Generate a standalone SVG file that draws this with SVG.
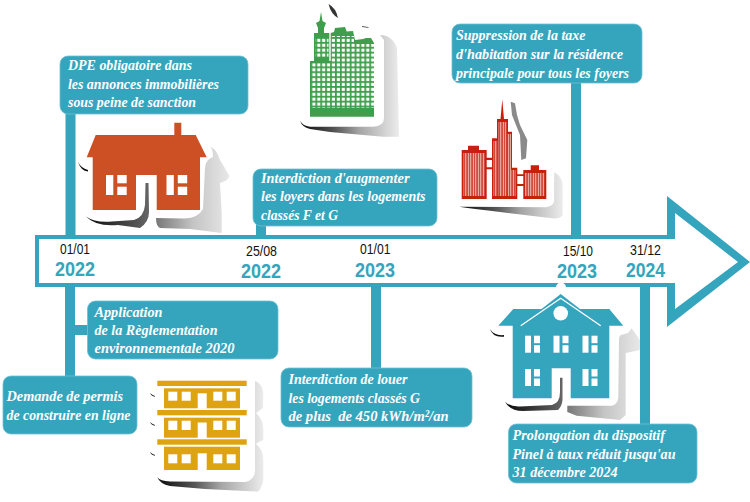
<svg xmlns="http://www.w3.org/2000/svg" width="750" height="502" viewBox="0 0 750 502">
<style>
.box{fill:#35a5bd;stroke:#6fc0d2;stroke-width:.8}
.t{font-family:"Liberation Serif",serif;font-style:italic;font-weight:bold;font-size:15.5px;fill:#fff}
.d{font-family:"Liberation Sans",sans-serif;font-size:14.5px;fill:#111}
.y{font-family:"Liberation Sans",sans-serif;font-weight:bold;font-size:21px;fill:#35a5bd}
.c{fill:#35a5bd}
.w{fill:#fff}
</style>
<defs>
<linearGradient id="sh"><stop offset="0" stop-color="#0a0a0a"/><stop offset=".35" stop-color="#555"/><stop offset=".6" stop-color="#a5a5a5"/><stop offset="1" stop-color="#ececec"/></linearGradient>
<linearGradient id="sd"><stop offset="0" stop-color="#0a0a0a"/><stop offset="1" stop-color="#666"/></linearGradient>
<linearGradient id="sl"><stop offset="0" stop-color="#777"/><stop offset=".5" stop-color="#c4c4c4"/><stop offset="1" stop-color="#e8e8e8"/></linearGradient>
<pattern id="grid" patternUnits="userSpaceOnUse" width="4.9" height="4.9" x="311.5" y="62.5"><rect x="0.8" y="0.8" width="3.1" height="3.1" fill="#fff"/></pattern>
<pattern id="stripes" patternUnits="userSpaceOnUse" width="2.5" height="10" x="462"><rect x="0.7" width="1.2" height="10" fill="#f4d0c8"/></pattern>
<g id="win"><rect width="6" height="17"/><rect x="9" width="6" height="7.5"/><rect x="9" y="9.5" width="6" height="7.5"/></g>
<g id="win2"><rect width="7.3" height="20"/><rect x="11.3" width="9.4" height="8.3"/><rect x="11.3" y="11.7" width="9.4" height="8.3"/></g>
</defs>

<g id="connectors">
<rect class="c" x="65.5" y="110" width="10" height="126"/>
<rect class="c" x="65" y="286" width="10" height="92"/>
<rect class="c" x="74" y="325" width="15" height="10"/>
<rect class="c" x="256" y="224" width="10" height="12"/>
<rect class="c" x="371" y="286" width="10" height="84"/>
<rect class="c" x="571" y="80" width="10" height="156"/>
<rect class="c" x="640" y="286" width="10" height="140"/>
</g>

<g id="timeline">
<path fill="#fff" d="M37,237H671V205L745,262L671,318V285H37Z"/>
<path class="c" fill-rule="evenodd" d="M35,235H667V196L750,262L667,327V287H35ZM39,239V283H675V309L738,262L675,213V239Z"/>
<text class="d" x="60" y="254" textLength="30" lengthAdjust="spacingAndGlyphs">01/01</text>
<text class="y" x="55" y="276" textLength="40" lengthAdjust="spacingAndGlyphs">2022</text>
<text class="d" x="246" y="256" textLength="31" lengthAdjust="spacingAndGlyphs">25/08</text>
<text class="y" x="241" y="278" textLength="40" lengthAdjust="spacingAndGlyphs">2022</text>
<text class="d" x="360" y="254" textLength="30.500" lengthAdjust="spacingAndGlyphs">01/01</text>
<text class="y" x="355" y="277" textLength="40" lengthAdjust="spacingAndGlyphs">2023</text>
<text class="d" x="563" y="256" textLength="30" lengthAdjust="spacingAndGlyphs">15/10</text>
<text class="y" x="557" y="278" textLength="40" lengthAdjust="spacingAndGlyphs">2023</text>
<text class="d" x="630" y="255" textLength="31" lengthAdjust="spacingAndGlyphs">31/12</text>
<text class="y" x="626" y="277" textLength="39" lengthAdjust="spacingAndGlyphs">2024</text>
</g>

<g id="note-dpe">
<rect class="box" x="60" y="56" width="188" height="58" rx="8"/>
<text class="t" x="68" y="70" textLength="124" lengthAdjust="spacingAndGlyphs">DPE obligatoire dans</text>
<text class="t" x="68" y="88.500" textLength="151" lengthAdjust="spacingAndGlyphs">les annonces immobilières</text>
<text class="t" x="68" y="107" textLength="128" lengthAdjust="spacingAndGlyphs">sous peine de sanction</text>
</g>
<g id="note-loyers">
<rect class="box" x="253" y="169" width="184" height="57" rx="8"/>
<text class="t" x="261" y="183" textLength="148.500" lengthAdjust="spacingAndGlyphs">Interdiction d'augmenter</text>
<text class="t" x="261" y="201" textLength="164.500" lengthAdjust="spacingAndGlyphs">les loyers dans les logements</text>
<text class="t" x="261" y="219.500" textLength="77" lengthAdjust="spacingAndGlyphs">classés F et G</text>
</g>
<g id="note-taxe">
<rect class="box" x="452" y="24" width="190" height="59" rx="8"/>
<text class="t" x="456" y="40" textLength="129.500" lengthAdjust="spacingAndGlyphs">Suppression de la taxe</text>
<text class="t" x="456" y="59" textLength="167" lengthAdjust="spacingAndGlyphs">d'habitation sur la résidence</text>
<text class="t" x="456" y="77.500" textLength="173" lengthAdjust="spacingAndGlyphs">principale pour tous les foyers</text>
</g>
<g id="note-re2020">
<rect class="box" x="87.500" y="301" width="190.500" height="58" rx="8"/>
<text class="t" x="94.500" y="316.500" textLength="68" lengthAdjust="spacingAndGlyphs">Application</text>
<text class="t" x="94.500" y="335" textLength="123" lengthAdjust="spacingAndGlyphs">de la Règlementation</text>
<text class="t" x="94.500" y="353" textLength="140" lengthAdjust="spacingAndGlyphs">environnementale 2020</text>
</g>
<g id="note-permis">
<rect class="box" x="3" y="376" width="134" height="58" rx="8"/>
<text class="t" x="6.500" y="401" textLength="116.500" lengthAdjust="spacingAndGlyphs">Demande de permis</text>
<text class="t" x="6.500" y="419.500" textLength="124" lengthAdjust="spacingAndGlyphs">de construire en ligne</text>
</g>
<g id="note-louer">
<rect class="box" x="281" y="368" width="191" height="59" rx="8"/>
<text class="t" x="288.500" y="384" textLength="119" lengthAdjust="spacingAndGlyphs">Interdiction de louer</text>
<text class="t" x="288.500" y="402.500" textLength="131.500" lengthAdjust="spacingAndGlyphs">les logements classés G</text>
<text class="t" x="288.500" y="421" textLength="160" lengthAdjust="spacingAndGlyphs" xml:space="preserve">de plus  de 450 kWh/m²/an</text>
</g>
<g id="note-pinel">
<rect class="box" x="508.500" y="424" width="188.500" height="59" rx="8"/>
<text class="t" x="512.500" y="440" textLength="152.500" lengthAdjust="spacingAndGlyphs">Prolongation du dispositif</text>
<text class="t" x="512.500" y="458.500" textLength="163" lengthAdjust="spacingAndGlyphs">Pinel à taux réduit jusqu'au</text>
<text class="t" x="512.500" y="477" textLength="105" lengthAdjust="spacingAndGlyphs">31 décembre 2024</text>
</g>

<g id="icon-orange-house">
<path fill="url(#sd)" d="M86,216.500Q95,223 112,221.500L134,220Q144,217 145,205L145.500,183H148.500L149,212Q149,222 140,228L118,225Q96,227 86,216.500Z"/>
<path fill="url(#sl)" d="M210.700,146.700Q217,150 220,160L229.500,176Q228,181 220,183L221.700,213V233L190,229L160,228Q156,226 156,218L185,218.500Q198,218 203,209L205,168Q205,160 213,157Q213,150 210.700,146.700Z"/>
<path fill="#111" d="M78,162Q81,168 88,170V171.500Q81,171 78,162Z"/>
<path fill="#cc5023" d="M174.300,135V122.700H181.300V135H195.700L206.700,157.300H200V210H156.700V175H136V210H92.700V157.300H86.700L95.700,135Z"/>
<g class="w"><use href="#win2" x="106" y="175"/><use href="#win2" x="166.500" y="175"/></g>
</g>

<g id="icon-green-tower">
<path fill="url(#sh)" d="M300,120.700Q303,126 310,126.700H373Q384,126 384,118V40L380,35Q392,35 397,48L399,136.700H383L330,132L310,129Q302,127 300,120.700Z"/>
<path fill="#333" d="M328.500,4Q336,8 338,18Q331,14 328.500,4Z"/>
<path fill="#555" d="M362,26L368,27L369,28L362,27Z"/>
<path fill="#3f9e4b" d="M310,116.700V61H314V33H318V28L316,23L319.500,21L321,12L322.500,21L326,23L324,28V33H329.300V61H330.700V33L334,32L335,28L345,27L346.700,31.500L353,31L355,40L363,39L366,38H371L374,43V116.700Z"/>
<rect x="311" y="63" width="63" height="45" fill="url(#grid)"/>
<rect x="331" y="36" width="23" height="27" fill="url(#grid)"/>
<rect x="354" y="44" width="20" height="19" fill="url(#grid)"/>
<rect x="315.500" y="37.500" width="13" height="20" fill="url(#grid)"/>
</g>

<g id="icon-red-towers">
<path fill="url(#sh)" d="M459.300,206.700L546,207.300Q553,206 554,201.700L554.300,172.300Q562,176 562.700,185V215Q560,219 554,218.500L500,212Q475,209 459.300,206.700Z"/>
<path fill="#8a8a8a" d="M510.700,101.700L515,103.300L517,115L520,125L527.300,140L526,158.300L521.300,160L520,135L512,115Z"/>
<path fill="#c8200f" d="M461.700,199V150H468V145.700H479V150H486.700V157.700H492V138.300H497V119H500.500L502.300,99.300L504,119H508V131.700H512V167.700H517.300V174.300H523.300V170H530.700V165.300H539V170H546.300V199H523.300V186H517.300V199H492V169.300H486.700V199ZM486.700,160V167.300H492V160ZM517.300,176V184H523.300V176Z"/>
<g fill="url(#stripes)">
<rect x="463.500" y="153" width="21.500" height="43"/>
<rect x="493.500" y="141" width="4" height="55"/>
<rect x="498.500" y="122" width="8" height="74"/>
<rect x="507.500" y="134" width="3.500" height="62"/>
<rect x="511" y="170" width="4.500" height="26"/>
<rect x="525" y="173" width="19.500" height="23"/>
</g>
</g>

<g id="icon-yellow-building">
<path fill="url(#sh)" d="M157.300,477.300Q160,481 170,481.500L245,482Q255,480 255,470V380.700Q263,384 263.300,394L263,408Q258,412 256,413Q264,420 263.300,430V440Q258,442 256,444Q264,450 263.300,462V480Q262,488 258,491.700L205,489L170,486Q160,484 157.300,477.300Z"/>
<g fill="#222"><path d="M150,393Q152,395 155,396V396.800Q151,396 150,393Z"/><path d="M150,422Q152,424 155,425V425.800Q151,425 150,422Z"/><path d="M150,452Q152,454 155,455V455.800Q151,455 150,452Z"/></g>
<g fill="#dda313">
<rect x="157.300" y="380.700" width="89.400" height="5.300"/><rect x="157.300" y="410" width="89.400" height="5.300"/><rect x="157.300" y="439.300" width="89.400" height="5.400"/>
<rect x="164" y="388.300" width="76" height="20"/><rect x="164" y="417.700" width="76" height="20"/><rect x="164" y="446.700" width="76" height="23.300"/>
</g>
<g class="w">
<rect x="197.700" y="393.300" width="9" height="15.500"/><rect x="197.700" y="422.500" width="9" height="15.700"/><rect x="197.700" y="453.300" width="9" height="17"/>
<rect x="168.300" y="391.700" width="9" height="9"/><rect x="181.700" y="391.700" width="9" height="9"/><rect x="213.300" y="391.700" width="9" height="9"/><rect x="226.700" y="391.700" width="9" height="9"/>
<rect x="168.300" y="420.700" width="9" height="9.300"/><rect x="181.700" y="420.700" width="9" height="9.300"/><rect x="213.300" y="420.700" width="9" height="9.300"/><rect x="226.700" y="420.700" width="9" height="9.300"/>
<rect x="168.300" y="454.300" width="9" height="9"/><rect x="181.700" y="454.300" width="9" height="9"/><rect x="213.300" y="454.300" width="9" height="9"/><rect x="226.700" y="454.300" width="9" height="9"/>
</g>
</g>

<g id="icon-blue-house">
<circle cx="561" cy="287.500" r="5" fill="#fff"/>
<path fill="url(#sd)" d="M505,401.700Q510,407 520,406.500L552,405Q560,403 560,392V377.700H562.500V400Q562,406 558,410L523,411Q510,411 505,401.700Z"/>
<path fill="url(#sl)" d="M567.300,405.700V412L576.700,415.700L620,420L625.700,415V353L640,350V340L631.700,328.300L628,333L621,335Q619,336 619,340L618.300,398Q617,405 611.700,405.700Z"/>
<path fill="#111" d="M490,329Q494,336 504,335V336.700Q493,338 490,329Z"/>
<path class="c" d="M560.700,294L580,309H609.300L623.300,325.700H609.300V398.300H570.700V368.300H551.700V398.300H512.700V325.700H498.300L513.300,309H541.500Z"/>
<path fill="none" stroke="#fff" stroke-width="1.300" d="M520.700,325.700L560.700,298.300L600.700,325.700"/>
<circle cx="560.700" cy="313.300" r="7.300" fill="#fff"/>
<g class="w"><use href="#win" x="525" y="335.700"/><use href="#win" x="553.500" y="335.700"/><use href="#win" x="582.500" y="335.700"/><use href="#win" x="525" y="369"/><use href="#win" x="582.500" y="369"/></g>
</g>
</svg>
